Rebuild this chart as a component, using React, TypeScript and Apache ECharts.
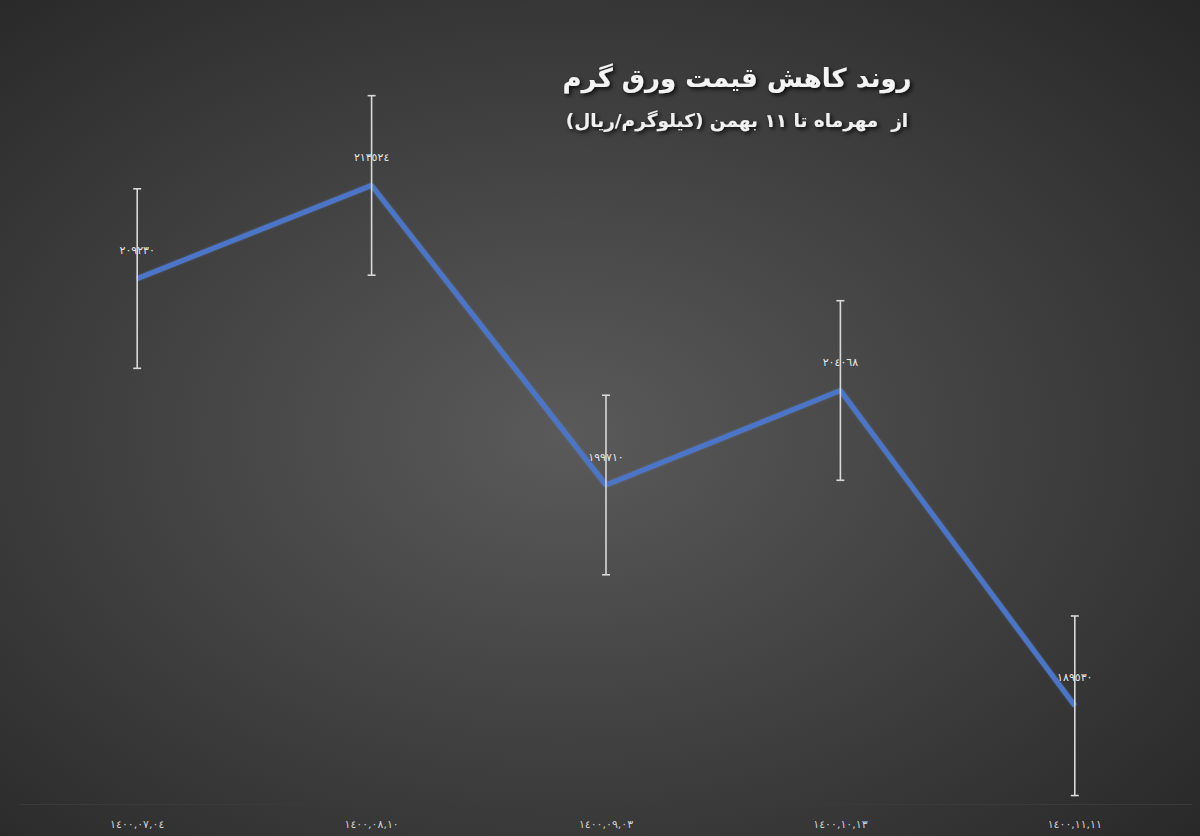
import React, { useEffect, useRef } from "react";
import * as echarts from "echarts";

const categories = ["١٤٠٠,٠٧,٠٤", "١٤٠٠,٠٨,١٠", "١٤٠٠,٠٩,٠٣", "١٤٠٠,١٠,١٣", "١٤٠٠,١١,١١"];
const prices = [209230, 213524, 199710, 204068, 189530];
const errorMargin = 4140;
const titleText = "روند کاهش قیمت ورق گرم";
const subtitleText = "از  مهرماه تا ۱۱ بهمن (کیلوگرم/ریال)";

const arabicDigits = "٠١٢٣٤٥٦٧٨٩";
const toArabic = (n: number) => String(n).replace(/[0-9]/g, (d) => arabicDigits[+d]);

const FONT = '"DejaVu Sans", "Noto Sans", sans-serif';

export default function App() {
  const ref = useRef<HTMLDivElement>(null);
  useEffect(() => {
    document.body.style.margin = "0";
    const chart = echarts.init(ref.current!, null, { renderer: "svg" });
    const shadow = {
      textShadowColor: "rgba(0,0,0,0.85)",
      textShadowBlur: 4,
      textShadowOffsetX: 2,
      textShadowOffsetY: 2,
    };
    chart.setOption({
      animation: false,
      backgroundColor: new echarts.graphic.RadialGradient(0.47, 0.52, 0.75, [
        { offset: 0, color: "#5a5a5a" },
        { offset: 1, color: "#262626" },
      ]),
      title: {
        text: titleText,
        subtext: subtitleText,
        left: 732,
        top: 60,
        textAlign: "center",
        itemGap: 20,
        textStyle: {
          fontFamily: FONT,
          fontSize: 26,
          fontWeight: "bold",
          color: "#f4f4f4",
          ...shadow,
        },
        subtextStyle: {
          fontFamily: FONT,
          fontSize: 18.5,
          fontWeight: "bold",
          color: "#f0f0f0",
          ...shadow,
        },
      },
      grid: { left: 20, right: 8, top: 45, bottom: 32, containLabel: false },
      xAxis: {
        type: "category",
        data: categories,
        boundaryGap: true,
        axisLine: { show: true, lineStyle: { color: "#3a3a3a", width: 1 } },
        axisTick: { show: false },
        axisLabel: {
          color: "#cfcfcf",
          fontSize: 11,
          fontFamily: FONT,
          margin: 15,
        },
      },
      yAxis: {
        type: "value",
        min: 185000,
        max: 220000,
        show: false,
        splitLine: { show: false },
      },
      series: [
        {
          type: "line",
          data: prices,
          symbol: "circle",
          symbolSize: 1,
          itemStyle: { color: "#4a73c6" },
          lineStyle: {
            color: "#4b75c8",
            width: 5,
            shadowColor: "rgba(120,160,230,0.35)",
            shadowBlur: 2,
          },
          label: {
            show: true,
            position: "top",
            distance: 22,
            color: "#e6e6e6",
            fontSize: 11,
            fontFamily: FONT,
            formatter: (p: any) => toArabic(p.value),
          },
          z: 2,
        },
        {
          type: "custom",
          data: prices.map((v, i) => [i, v]),
          z: 3,
          renderItem: (params: any, api: any) => {
            const x = api.value(0);
            const v = api.value(1);
            const top = api.coord([x, v + errorMargin]);
            const bot = api.coord([x, v - errorMargin]);
            const cap = 4;
            const style = { stroke: "#d9d9d9", lineWidth: 1.6 };
            return {
              type: "group",
              children: [
                { type: "line", shape: { x1: top[0], y1: top[1], x2: bot[0], y2: bot[1] }, style },
                { type: "line", shape: { x1: top[0] - cap, y1: top[1], x2: top[0] + cap, y2: top[1] }, style },
                { type: "line", shape: { x1: bot[0] - cap, y1: bot[1], x2: bot[0] + cap, y2: bot[1] }, style },
              ],
            };
          },
        },
      ],
    });
    return () => chart.dispose();
  }, []);
  return <div ref={ref} style={{ width: 1200, height: 836 }} />;
}
